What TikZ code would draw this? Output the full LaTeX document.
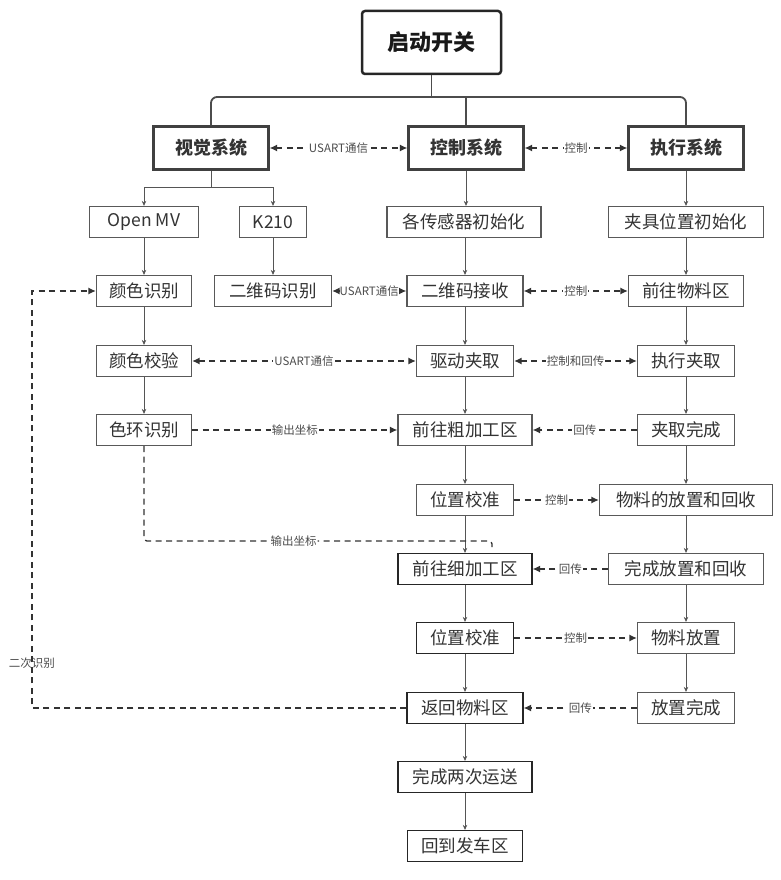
\documentclass[tikz,border=0pt]{standalone}
\usepackage{fontspec}
\setmainfont{Noto Sans CJK SC}
\usetikzlibrary{arrows.meta,calc}
\definecolor{ln}{HTML}{555555}
\definecolor{tx}{HTML}{333333}
\tikzset{
  box/.style={draw=black!65, line width=1.2pt, fill=white, text=tx, minimum height=31pt, inner sep=0pt, font=\fontsize{17.5}{20}\selectfont},
  dbox/.style={box, draw=black!85},
  sysbox/.style={draw=black!75, line width=2.2pt, fill=white, text=tx, minimum height=43pt, minimum width=115pt, inner sep=0pt, font=\fontsize{18}{21}\selectfont\bfseries},
  sarr/.style={draw=ln, line width=0.9pt, -{Stealth[length=5pt,width=4.5pt]}},
  bus/.style={draw=black!70, line width=1.8pt, rounded corners=6pt},
  dline/.style={draw=black!80, line width=1.3pt, dash pattern=on 6pt off 4.5pt},
  darr/.style={dline, {Latex[length=7.5pt,width=7pt]}-{Latex[length=7.5pt,width=7pt]}},
  rarr/.style={dline, -{Latex[length=7.5pt,width=7pt]}},
  lbl/.style={fill=white, inner sep=1pt, text=black!70, font=\fontsize{11.5}{13}\selectfont}
}
\begin{document}
\begin{tikzpicture}[x=1pt,y=-1pt]
\path[use as bounding box] (0,0) rectangle (780,880);
% top
\node[draw=black!85, line width=2.5pt, rounded corners=3pt, fill=white, text=black!90, minimum width=139pt, minimum height=63pt, inner sep=0pt, font=\fontsize{22}{26}\selectfont\bfseries] (start) at (431.5,42.5) {启动开关};
\node[sysbox] (vis) at (211,148) {视觉系统};
\node[sysbox] (ctl) at (466,148) {控制系统};
\node[sysbox] (exe) at (686,148) {执行系统};
% row 2
\node[box, minimum width=109pt] (openmv) at (144,222) {Open MV};
\node[box, minimum width=67pt] (k210) at (273,222) {K210};
\node[box, minimum width=154pt] (sensors) at (464,222) {各传感器初始化};
\node[box, minimum width=155pt] (fixture) at (686,222) {夹具位置初始化};
% row 3
\node[box, minimum width=95pt] (colorid) at (144,291) {颜色识别};
\node[box, minimum width=117pt] (qrid) at (273,291) {二维码识别};
\node[box, minimum width=116pt] (qrrx) at (465,291) {二维码接收};
\node[box, minimum width=115pt] (gomat) at (686,291) {前往物料区};
% row 4
\node[box, minimum width=95pt] (colorchk) at (144,361) {颜色校验};
\node[box, minimum width=97pt] (drive) at (465,361) {驱动夹取};
\node[box, minimum width=97pt] (execgrab) at (686,361) {执行夹取};
% row 5
\node[box, minimum width=95pt] (ringid) at (144,430) {色环识别};
\node[box, minimum width=134pt] (rough) at (465,430) {前往粗加工区};
\node[box, minimum width=97pt] (grabdone) at (686,430) {夹取完成};
% row 6
\node[box, minimum width=97pt] (pos1) at (465,500) {位置校准};
\node[box, minimum width=173pt] (place) at (686,500) {物料的放置和回收};
% row 7
\node[dbox, minimum width=134pt] (fine) at (465,569) {前往细加工区};
\node[box, minimum width=155pt] (placedone) at (686,569) {完成放置和回收};
% row 8
\node[dbox, minimum width=97pt] (pos2) at (465,638) {位置校准};
\node[box, minimum width=97pt] (matplace) at (686,638) {物料放置};
% row 9
\node[dbox, minimum width=116pt] (back) at (465,708) {返回物料区};
\node[box, minimum width=97pt] (putdone) at (686,708) {放置完成};
% rows 10-11
\node[dbox, minimum width=134pt] (twice) at (465,777) {完成两次运送};
\node[dbox, minimum width=115pt] (home) at (465,846) {回到发车区};
% bus
\coordinate (busy) at (0,97);
\draw[bus] (vis.north) -- (vis.north |- busy) -- (exe.north |- busy) -- (exe.north);
\draw[bus] (start.south) -- (start.south |- busy);
\draw[bus] (ctl.north |- busy) -- (ctl.north);
% left branches
\coordinate (vb) at (211,187);
\draw[draw=ln, line width=0.9pt] (vis.south) -- (vb);
\draw[sarr] (vb) -| (openmv.north);
\draw[sarr] (vb) -| (k210.north);
\draw[sarr] (openmv) -- (colorid);
\draw[sarr] (colorid) -- (colorchk);
\draw[sarr] (colorchk) -- (ringid);
\draw[sarr] (k210) -- (qrid);
% middle column
\draw[sarr] (ctl.south) -- (ctl.south |- sensors.north);
\draw[sarr] (sensors.south -| qrrx.north) -- (qrrx.north);
\draw[sarr] (qrrx) -- (drive);
\draw[sarr] (drive) -- (rough);
\draw[sarr] (rough) -- (pos1);
\draw[sarr] (pos1) -- (fine);
\draw[sarr] (fine) -- (pos2);
\draw[sarr] (pos2) -- (back);
\draw[sarr] (back) -- (twice);
\draw[sarr] (twice) -- (home);
% right column
\draw[sarr] (exe) -- (fixture);
\draw[sarr] (fixture) -- (gomat);
\draw[sarr] (gomat) -- (execgrab);
\draw[sarr] (execgrab) -- (grabdone);
\draw[sarr] (grabdone) -- (place);
\draw[sarr] (place) -- (placedone);
\draw[sarr] (placedone) -- (matplace);
\draw[sarr] (matplace) -- (putdone);
% dashed links
\draw[darr] (vis) -- node[lbl]{USART通信} (ctl);
\draw[darr] (ctl) -- node[lbl]{控制} (exe);
\draw[darr] (qrid) -- node[lbl, inner sep=0pt]{USART通信} (qrrx);
\draw[darr] (qrrx) -- node[lbl]{控制} (gomat);
\draw[darr] (colorchk) -- node[lbl]{USART通信} (drive);
\draw[darr] (drive) -- node[lbl]{控制和回传} (execgrab);
\draw[rarr] (ringid) -- node[lbl]{输出坐标} (rough);
\draw[rarr] (grabdone) -- node[lbl]{回传} (rough);
\draw[rarr] (pos1) -- node[lbl]{控制} (place);
\draw[rarr] (placedone) -- node[lbl]{回传} (fine);
\draw[rarr] (pos2) -- node[lbl]{控制} (matplace);
\draw[rarr] (putdone) -- node[lbl]{回传} (back);
% output coordinates to fine
\coordinate (oc1) at (144,541);
\coordinate (oc2) at (492,541);
\coordinate (oc3) at (492,547);
\draw[dline, rounded corners=3pt] (ringid.south) -- (oc1) -- node[lbl, pos=0.43]{输出坐标} (oc2) -- (oc3);
% second recognition loop
\coordinate (lp1) at (32,708);
\coordinate (lp2) at (32,291);
\draw[rarr] (back.west) -- (lp1) -- node[lbl, pos=0.108, fill=none]{二次识别} (lp2) -- (colorid.west);
\end{tikzpicture}
\end{document}
